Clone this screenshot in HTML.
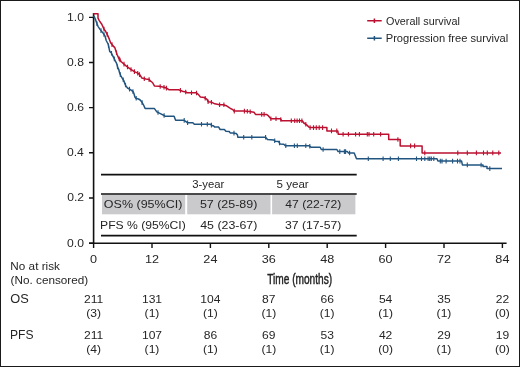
<!DOCTYPE html>
<html><head><meta charset="utf-8"><style>
html,body{margin:0;padding:0;background:#fff;}
body{width:520px;height:367px;overflow:hidden;position:relative;font-family:"Liberation Sans",sans-serif;}
.frame{position:absolute;left:0;top:0;width:518px;height:365px;border:1px solid #1a1a1a;}
svg{position:absolute;left:0;top:0;will-change:transform;}
</style></head><body>
<div class="frame"></div>
<svg width="520" height="367" viewBox="0 0 520 367">
<g class="shapes">
<path d="M93.6 13V244M89 243.3H506.6" stroke="#111" stroke-width="1.6" fill="none"/>
<path d="M89 243.10H93.6M89 197.95H93.6M89 152.80H93.6M89 107.65H93.6M89 62.50H93.6M89 17.35H93.6" stroke="#111" stroke-width="1.4"/>
<path d="M93.60 243V248M152.00 243V248M210.40 243V248M268.80 243V248M327.20 243V248M385.60 243V248M444.00 243V248M502.40 243V248" stroke="#111" stroke-width="1.4"/>
<rect x="102" y="194.7" width="83.2" height="19.6" fill="#cacacd"/>
<rect x="187.2" y="194.7" width="83.3" height="19.6" fill="#cacacd"/>
<rect x="272.1" y="194.7" width="83.3" height="19.6" fill="#cacacd"/>
<path d="M101 174.6H356.7M101 194H356.7M101 235.6H356.7" stroke="#111" stroke-width="1.6"/>
<path d="M367.2 20.7H381.7M374.4 18.5V23" stroke="#bb1030" stroke-width="1.5"/>
<path d="M367.2 38.2H381.7M374.4 36V40.5" stroke="#215580" stroke-width="1.5"/>
</g>
<g class="curves">
<polyline points="93.1,16.5 94.2,16.5 95.8,20.4 96.9,23.6 98.0,26.3 100.2,29.6 102.9,32.9 105.1,36.2 106.2,40.5 108.1,44.0 108.9,47.3 109.7,51.4 111.4,53.0 113.0,56.3 114.2,58.7 115.4,61.2 116.7,63.6 117.5,66.9 118.7,69.3 119.7,73.3 121.0,76.1 122.2,78.2 123.8,80.6 124.6,83.1 125.9,85.9 127.5,88.0 130.4,89.6 133.2,91.7 134.0,93.7 134.9,97.0 135.7,98.2 138.5,99.0 140.2,100.0 141.4,101.4 143.9,105.7 145.1,108.4 154.3,108.4 156.8,111.9 160.4,113.7 164.1,115.5 165.3,116.3 174.1,116.3 175.6,120.2 183.8,120.2 185.7,121.3 187.6,122.8 192.9,122.8 194.3,124.2 210.2,124.2 212.1,125.7 213.4,125.7 214.8,127.1 218.7,127.1 220.1,129.5 224.4,129.5 225.9,131.3 229.2,131.5 230.2,132.9 233.1,132.9 236.0,133.4 237.4,134.8 237.9,137.3 265.6,137.3 267.5,139.5 273.8,140.0 275.2,141.3 278.6,141.5 280.0,143.9 283.8,144.3 285.3,145.8 309.2,145.8 311.0,147.2 320.2,147.2 321.3,149.5 336.9,149.5 338.1,151.6 347.3,151.6 348.5,153.0 354.2,153.0 356.5,158.8 437.0,158.8 437.9,161.1 461.6,161.1 462.4,164.9 483.0,165.0 483.0,166.5 487.0,166.5 487.0,168.6 502.0,168.6" fill="none" stroke="#215580" stroke-width="1.5" stroke-linejoin="round"/>
<path d="M97.0 21.5V26.1M101.0 28.3V32.9M104.0 32.2V36.8M108.5 43.4V47.9M123.2 77.4V82.0M125.5 82.7V87.3M129.5 86.8V91.4M136.2 96.0V100.6M111.5 50.9V55.5M114.3 56.6V61.2M117.5 64.6V69.2M120.3 72.3V76.9M132.9 89.2V93.8M142.1 100.3V104.9M158.0 110.2V114.8M164.1 113.2V117.8M184.2 118.1V122.7M187.6 120.5V125.1M201.5 121.9V126.5M207.3 121.9V126.5M211.4 122.8V127.4M234.0 130.8V135.4M243.7 135.0V139.6M251.8 135.0V139.6M265.6 135.0V139.6M274.7 138.5V143.1M279.5 140.7V145.3M285.8 143.5V148.1M294.4 143.5V148.1M297.3 143.5V148.1M305.8 143.5V148.1M309.8 144.0V148.6M323.1 147.2V151.8M339.8 149.3V153.9M344.4 149.3V153.9M345.6 149.3V153.9M349.6 150.7V155.3M368.3 156.5V161.1M383.1 156.5V161.1M390.3 156.5V161.1M398.4 156.5V161.1M416.5 156.5V161.1M421.5 156.5V161.1M424.8 156.5V161.1M428.1 156.5V161.1M429.7 156.5V161.1M431.3 156.5V161.1M433.8 156.5V161.1M440.3 158.8V163.4M442.0 158.8V163.4M446.1 158.8V163.4M452.6 158.8V163.4M457.5 158.8V163.4M460.0 158.8V163.4M467.3 162.6V167.2M481.1 162.7V167.3M489.8 166.3V170.9" stroke="#215580" stroke-width="1.1"/>
<polyline points="93.1,13.8 98.0,13.8 98.0,18.2 99.1,20.4 101.8,24.2 104.0,29.1 105.6,31.3 107.8,35.6 109.4,39.4 110.5,42.5 112.6,45.4 114.8,47.6 115.9,50.9 117.0,54.2 118.6,58.0 121.3,61.8 125.7,65.6 130.1,68.9 134.4,71.6 137.7,73.2 139.9,74.9 141.9,78.1 145.8,79.1 149.1,79.6 150.6,81.1 152.5,82.5 154.4,85.9 159.2,86.3 164.0,87.3 166.9,88.3 168.8,89.7 178.5,89.7 181.3,90.7 183.3,91.6 186.2,92.1 186.9,92.7 196.1,92.7 198.5,94.6 200.4,97.0 204.2,97.5 207.1,99.4 208.1,101.8 211.9,102.3 214.8,103.8 219.6,104.7 223.5,104.7 226.3,105.7 229.2,107.6 230.5,108.5 232.9,109.6 233.8,111.1 244.4,111.1 249.2,111.5 254.0,112.3 255.5,114.4 266.5,114.4 268.5,115.9 270.9,118.8 280.3,118.8 281.7,120.8 302.4,120.8 303.8,123.0 306.7,124.9 309.1,127.3 310.1,127.6 326.9,127.6 326.9,130.9 337.8,130.9 338.3,134.3 388.7,134.3 388.7,139.5 400.2,139.5 400.2,145.9 422.1,145.9 422.1,152.9 501.0,152.9" fill="none" stroke="#bb1030" stroke-width="1.5" stroke-linejoin="round"/>
<path d="M104.0 26.8V31.4M107.2 32.1V36.7M112.0 42.3V46.9M116.5 50.4V55.0M120.0 57.7V62.3M124.0 61.8V66.4M127.5 64.7V69.2M131.0 67.2V71.8M139.5 72.3V76.9M119.2 56.5V61.1M134.4 69.3V73.9M137.7 70.9V75.5M144.3 76.4V81.0M149.1 77.3V81.9M160.2 84.2V88.8M164.0 85.0V89.6M166.4 85.8V90.4M180.4 88.1V92.7M185.7 89.7V94.3M191.5 90.4V95.0M196.5 90.7V95.3M205.2 95.9V100.5M208.1 99.5V104.1M211.4 99.9V104.5M219.6 102.4V107.0M223.9 102.5V107.1M234.3 108.8V113.4M244.4 108.8V113.4M247.3 109.0V113.6M250.2 109.4V114.0M261.7 112.1V116.7M264.1 112.1V116.7M270.9 116.5V121.1M276.0 116.5V121.1M280.8 117.2V121.8M291.3 118.5V123.1M294.7 118.5V123.1M297.1 118.5V123.1M299.5 118.5V123.1M301.9 118.5V123.1M305.8 122.0V126.6M310.1 125.3V129.9M313.5 125.3V129.9M316.3 125.3V129.9M319.2 125.3V129.9M322.6 125.3V129.9M331.5 128.6V133.2M336.8 128.6V133.2M343.1 132.0V136.6M348.4 132.0V136.6M355.6 132.0V136.6M359.4 132.0V136.6M367.3 132.0V136.6M369.0 132.0V136.6M373.7 132.0V136.6M380.6 132.0V136.6M397.9 137.2V141.8M410.6 143.6V148.2M414.6 143.6V148.2M424.8 150.6V155.2M457.8 150.6V155.2M467.3 150.6V155.2M476.4 150.6V155.2M483.5 150.6V155.2M487.3 150.6V155.2M492.8 150.6V155.2M498.8 150.6V155.2" stroke="#bb1030" stroke-width="1.1"/>
</g>
<g class="texts">
<text transform="translate(67.09 246.60) scale(1.0300 1)" font-size="11.8" font-family="Liberation Sans" fill="#262626">0.0</text>
<text transform="translate(67.21 201.45) scale(1.0300 1)" font-size="11.8" font-family="Liberation Sans" fill="#262626">0.2</text>
<text transform="translate(66.97 156.30) scale(1.0300 1)" font-size="11.8" font-family="Liberation Sans" fill="#262626">0.4</text>
<text transform="translate(67.09 111.15) scale(1.0300 1)" font-size="11.8" font-family="Liberation Sans" fill="#262626">0.6</text>
<text transform="translate(67.09 66.00) scale(1.0300 1)" font-size="11.8" font-family="Liberation Sans" fill="#262626">0.8</text>
<text transform="translate(67.09 20.85) scale(1.0300 1)" font-size="11.8" font-family="Liberation Sans" fill="#262626">1.0</text>
<text x="93.60" y="263.2" text-anchor="middle" font-size="11.5" font-family="Liberation Sans" fill="#262626" transform="translate(93.60 0) scale(1.1 1) translate(-93.60 0)">0</text>
<text x="152.00" y="263.2" text-anchor="middle" font-size="11.5" font-family="Liberation Sans" fill="#262626" transform="translate(152.00 0) scale(1.1 1) translate(-152.00 0)">12</text>
<text x="210.40" y="263.2" text-anchor="middle" font-size="11.5" font-family="Liberation Sans" fill="#262626" transform="translate(210.40 0) scale(1.1 1) translate(-210.40 0)">24</text>
<text x="268.80" y="263.2" text-anchor="middle" font-size="11.5" font-family="Liberation Sans" fill="#262626" transform="translate(268.80 0) scale(1.1 1) translate(-268.80 0)">36</text>
<text x="327.20" y="263.2" text-anchor="middle" font-size="11.5" font-family="Liberation Sans" fill="#262626" transform="translate(327.20 0) scale(1.1 1) translate(-327.20 0)">48</text>
<text x="385.60" y="263.2" text-anchor="middle" font-size="11.5" font-family="Liberation Sans" fill="#262626" transform="translate(385.60 0) scale(1.1 1) translate(-385.60 0)">60</text>
<text x="444.00" y="263.2" text-anchor="middle" font-size="11.5" font-family="Liberation Sans" fill="#262626" transform="translate(444.00 0) scale(1.1 1) translate(-444.00 0)">72</text>
<text x="502.40" y="263.2" text-anchor="middle" font-size="11.5" font-family="Liberation Sans" fill="#262626" transform="translate(502.40 0) scale(1.1 1) translate(-502.40 0)">84</text>
<text transform="translate(192.25 187.90) scale(0.9939 1)" font-size="11.4" font-family="Liberation Sans" fill="#262626">3-year</text>
<text transform="translate(276.54 187.90) scale(1.0159 1)" font-size="11.4" font-family="Liberation Sans" fill="#262626">5 year</text>
<text transform="translate(103.87 208.30) scale(1.0976 1)" font-size="11.4" font-family="Liberation Sans" fill="#262626">OS% (95%CI)</text>
<text transform="translate(199.90 208.30) scale(1.0931 1)" font-size="11.4" font-family="Liberation Sans" fill="#262626">57 (25-89)</text>
<text transform="translate(285.26 208.30) scale(1.0670 1)" font-size="11.4" font-family="Liberation Sans" fill="#262626">47 (22-72)</text>
<text transform="translate(100.03 229.40) scale(1.0673 1)" font-size="11.4" font-family="Liberation Sans" fill="#262626">PFS % (95%CI)</text>
<text transform="translate(200.15 229.40) scale(1.0883 1)" font-size="11.4" font-family="Liberation Sans" fill="#262626">45 (23-67)</text>
<text transform="translate(285.01 229.40) scale(1.0717 1)" font-size="11.4" font-family="Liberation Sans" fill="#262626">37 (17-57)</text>
<text transform="translate(386.06 24.70) scale(0.9821 1)" font-size="11.0" font-family="Liberation Sans" fill="#262626">Overall survival</text>
<text transform="translate(385.71 42.10) scale(1.0129 1)" font-size="11.0" font-family="Liberation Sans" fill="#262626">Progression free survival</text>
<text stroke="#222" stroke-width="0.45" transform="translate(267.20 284.00) scale(0.7349 1)" font-size="13.8" font-family="Liberation Sans" fill="#262626">Time (months)</text>
<text transform="translate(10.36 269.60) scale(1.0208 1)" font-size="11.5" font-family="Liberation Sans" fill="#262626">No at risk</text>
<text transform="translate(10.59 283.90) scale(1.0223 1)" font-size="11.5" font-family="Liberation Sans" fill="#262626">(No. censored)</text>
<text transform="translate(10.36 303.10) scale(1.0419 1)" font-size="12.3" font-family="Liberation Sans" fill="#262626">OS</text>
<text transform="translate(10.03 338.80) scale(0.9828 1)" font-size="12.3" font-family="Liberation Sans" fill="#262626">PFS</text>
<text x="93.60" y="303.0" text-anchor="middle" font-size="11.5" font-family="Liberation Sans" fill="#262626" transform="translate(93.60 0) scale(1.05 1) translate(-93.60 0)">211</text>
<text x="93.60" y="317.2" text-anchor="middle" font-size="11.5" font-family="Liberation Sans" fill="#262626" transform="translate(93.60 0) scale(1.05 1) translate(-93.60 0)">(3)</text>
<text x="93.60" y="338.7" text-anchor="middle" font-size="11.5" font-family="Liberation Sans" fill="#262626" transform="translate(93.60 0) scale(1.05 1) translate(-93.60 0)">211</text>
<text x="93.60" y="352.8" text-anchor="middle" font-size="11.5" font-family="Liberation Sans" fill="#262626" transform="translate(93.60 0) scale(1.05 1) translate(-93.60 0)">(4)</text>
<text x="152.00" y="303.0" text-anchor="middle" font-size="11.5" font-family="Liberation Sans" fill="#262626" transform="translate(152.00 0) scale(1.05 1) translate(-152.00 0)">131</text>
<text x="152.00" y="317.2" text-anchor="middle" font-size="11.5" font-family="Liberation Sans" fill="#262626" transform="translate(152.00 0) scale(1.05 1) translate(-152.00 0)">(1)</text>
<text x="152.00" y="338.7" text-anchor="middle" font-size="11.5" font-family="Liberation Sans" fill="#262626" transform="translate(152.00 0) scale(1.05 1) translate(-152.00 0)">107</text>
<text x="152.00" y="352.8" text-anchor="middle" font-size="11.5" font-family="Liberation Sans" fill="#262626" transform="translate(152.00 0) scale(1.05 1) translate(-152.00 0)">(1)</text>
<text x="210.40" y="303.0" text-anchor="middle" font-size="11.5" font-family="Liberation Sans" fill="#262626" transform="translate(210.40 0) scale(1.05 1) translate(-210.40 0)">104</text>
<text x="210.40" y="317.2" text-anchor="middle" font-size="11.5" font-family="Liberation Sans" fill="#262626" transform="translate(210.40 0) scale(1.05 1) translate(-210.40 0)">(1)</text>
<text x="210.40" y="338.7" text-anchor="middle" font-size="11.5" font-family="Liberation Sans" fill="#262626" transform="translate(210.40 0) scale(1.05 1) translate(-210.40 0)">86</text>
<text x="210.40" y="352.8" text-anchor="middle" font-size="11.5" font-family="Liberation Sans" fill="#262626" transform="translate(210.40 0) scale(1.05 1) translate(-210.40 0)">(1)</text>
<text x="268.80" y="303.0" text-anchor="middle" font-size="11.5" font-family="Liberation Sans" fill="#262626" transform="translate(268.80 0) scale(1.05 1) translate(-268.80 0)">87</text>
<text x="268.80" y="317.2" text-anchor="middle" font-size="11.5" font-family="Liberation Sans" fill="#262626" transform="translate(268.80 0) scale(1.05 1) translate(-268.80 0)">(1)</text>
<text x="268.80" y="338.7" text-anchor="middle" font-size="11.5" font-family="Liberation Sans" fill="#262626" transform="translate(268.80 0) scale(1.05 1) translate(-268.80 0)">69</text>
<text x="268.80" y="352.8" text-anchor="middle" font-size="11.5" font-family="Liberation Sans" fill="#262626" transform="translate(268.80 0) scale(1.05 1) translate(-268.80 0)">(1)</text>
<text x="327.20" y="303.0" text-anchor="middle" font-size="11.5" font-family="Liberation Sans" fill="#262626" transform="translate(327.20 0) scale(1.05 1) translate(-327.20 0)">66</text>
<text x="327.20" y="317.2" text-anchor="middle" font-size="11.5" font-family="Liberation Sans" fill="#262626" transform="translate(327.20 0) scale(1.05 1) translate(-327.20 0)">(1)</text>
<text x="327.20" y="338.7" text-anchor="middle" font-size="11.5" font-family="Liberation Sans" fill="#262626" transform="translate(327.20 0) scale(1.05 1) translate(-327.20 0)">53</text>
<text x="327.20" y="352.8" text-anchor="middle" font-size="11.5" font-family="Liberation Sans" fill="#262626" transform="translate(327.20 0) scale(1.05 1) translate(-327.20 0)">(1)</text>
<text x="385.60" y="303.0" text-anchor="middle" font-size="11.5" font-family="Liberation Sans" fill="#262626" transform="translate(385.60 0) scale(1.05 1) translate(-385.60 0)">54</text>
<text x="385.60" y="317.2" text-anchor="middle" font-size="11.5" font-family="Liberation Sans" fill="#262626" transform="translate(385.60 0) scale(1.05 1) translate(-385.60 0)">(1)</text>
<text x="385.60" y="338.7" text-anchor="middle" font-size="11.5" font-family="Liberation Sans" fill="#262626" transform="translate(385.60 0) scale(1.05 1) translate(-385.60 0)">42</text>
<text x="385.60" y="352.8" text-anchor="middle" font-size="11.5" font-family="Liberation Sans" fill="#262626" transform="translate(385.60 0) scale(1.05 1) translate(-385.60 0)">(0)</text>
<text x="444.00" y="303.0" text-anchor="middle" font-size="11.5" font-family="Liberation Sans" fill="#262626" transform="translate(444.00 0) scale(1.05 1) translate(-444.00 0)">35</text>
<text x="444.00" y="317.2" text-anchor="middle" font-size="11.5" font-family="Liberation Sans" fill="#262626" transform="translate(444.00 0) scale(1.05 1) translate(-444.00 0)">(1)</text>
<text x="444.00" y="338.7" text-anchor="middle" font-size="11.5" font-family="Liberation Sans" fill="#262626" transform="translate(444.00 0) scale(1.05 1) translate(-444.00 0)">29</text>
<text x="444.00" y="352.8" text-anchor="middle" font-size="11.5" font-family="Liberation Sans" fill="#262626" transform="translate(444.00 0) scale(1.05 1) translate(-444.00 0)">(1)</text>
<text x="502.40" y="303.0" text-anchor="middle" font-size="11.5" font-family="Liberation Sans" fill="#262626" transform="translate(502.40 0) scale(1.05 1) translate(-502.40 0)">22</text>
<text x="502.40" y="317.2" text-anchor="middle" font-size="11.5" font-family="Liberation Sans" fill="#262626" transform="translate(502.40 0) scale(1.05 1) translate(-502.40 0)">(0)</text>
<text x="502.40" y="338.7" text-anchor="middle" font-size="11.5" font-family="Liberation Sans" fill="#262626" transform="translate(502.40 0) scale(1.05 1) translate(-502.40 0)">19</text>
<text x="502.40" y="352.8" text-anchor="middle" font-size="11.5" font-family="Liberation Sans" fill="#262626" transform="translate(502.40 0) scale(1.05 1) translate(-502.40 0)">(0)</text>
</g>
</svg>
</body></html>
